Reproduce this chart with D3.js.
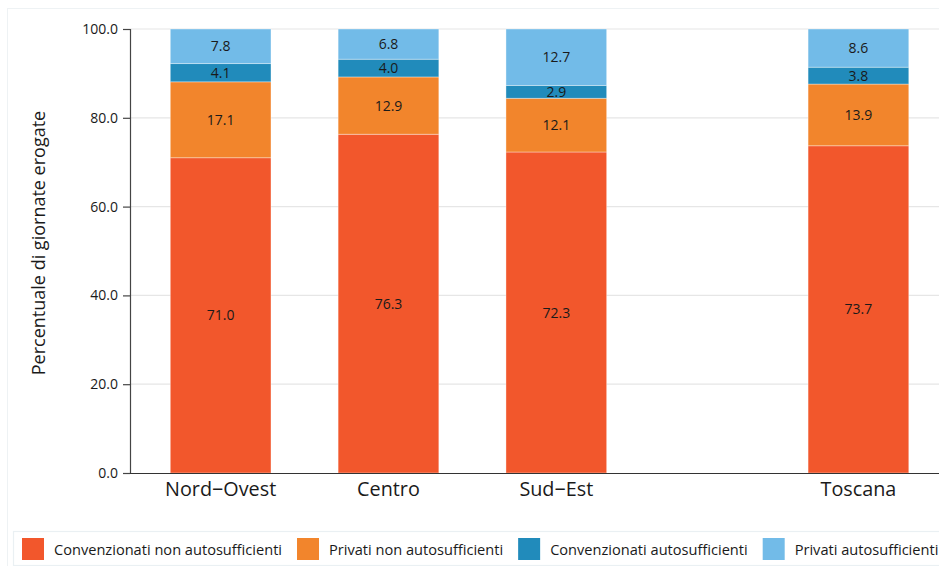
<!DOCTYPE html>
<html><head><meta charset="utf-8">
<script src="https://cdn.jsdelivr.net/npm/d3@7"></script>
<style>
html,body{margin:0;padding:0;background:#fff;}
svg{display:block;font-family:"Open Sans",Lato,sans-serif;}
</style></head>
<body>
<svg id="chart" width="939" height="566"></svg>
<script>
const categories = ["Nord\u2212Ovest", "Centro", "Sud\u2212Est", "Toscana"];
const seriesNames = ["Convenzionati non autosufficienti", "Privati non autosufficienti", "Convenzionati autosufficienti", "Privati autosufficienti"];
const convNonAuto = [71.0, 76.3, 72.3, 73.7];
const privNonAuto = [17.1, 12.9, 12.1, 13.9];
const convAuto = [4.1, 4.0, 2.9, 3.8];
const privAuto = [7.8, 6.8, 12.7, 8.6];
const yTicks = [0, 20, 40, 60, 80, 100];
const colors = ["#f2572c", "#f2852c", "#218bbb", "#72bbe8"];
const yTitle = "Percentuale di giornate erogate";

(function () {
const FONT = "'Open Sans',Lato,sans-serif";
const seriesValues = [convNonAuto, privNonAuto, convAuto, privAuto];
const keys = ["s0","s1","s2","s3"];
const table = categories.map((c, i) => {
  const row = {cat: c, idx: i};
  keys.forEach((k, j) => row[k] = seriesValues[j][i]);
  return row;
});

const svg = d3.select("#chart");
const W = 939, H = 566;
const mLeft = 130, mRight = 939, mTop = 29, mBottom = 473;

// outer frame
svg.append("rect").attr("x", 7.5).attr("y", 8.5).attr("width", W).attr("height", H)
  .attr("fill", "none").attr("stroke", "#eef2f4").attr("stroke-width", 1);

// x: category slots with a spacer before the national total
const gap = 0.8;
const slot = i => i + (i >= 3 ? gap : 0);
const x = d3.scaleLinear().domain([-0.54, 4.28]).range([mLeft, mRight]);
const barW = x(0.6) - x(0);
const y = d3.scaleLinear().domain([0, 100]).range([mBottom, mTop]);

// grid
svg.append("g").selectAll("line").data(yTicks.filter(t => t > 0)).join("line")
  .attr("x1", mLeft).attr("x2", mRight).attr("y1", d => y(d)).attr("y2", d => y(d))
  .attr("stroke", "#e6e6e6").attr("stroke-width", 1.2);

// bars
const stack = d3.stack().keys(keys)(table);
const g = svg.append("g");
stack.forEach((layer, j) => {
  g.append("g").selectAll("rect").data(layer).join("rect")
    .attr("x", d => x(slot(d.data.idx)) - barW / 2)
    .attr("width", barW)
    .attr("y", d => y(d[1]))
    .attr("height", d => y(d[0]) - y(d[1]))
    .attr("fill", colors[j])
    .attr("stroke", "rgba(255,255,255,0.45)").attr("stroke-width", 0.8);
});
stack.forEach((layer, j) => {
  g.append("g").selectAll("text").data(layer).join("text")
    .attr("x", d => x(slot(d.data.idx)))
    .attr("y", d => (y(d[0]) + y(d[1])) / 2)
    .attr("dy", "0.36em")
    .attr("text-anchor", "middle")
    .attr("font-size", 14).attr("fill", "#1a1a1a")
    .text(d => d3.format(".1f")(d[1] - d[0]));
});

// y axis
const yAxis = svg.append("g").attr("transform", `translate(${mLeft},0)`)
  .call(d3.axisLeft(y).tickValues(yTicks).tickFormat(d3.format(".1f")).tickSize(7).tickPadding(5));
yAxis.select(".domain").attr("stroke", "#444").attr("stroke-width", 1.2).attr("d", `M0.5,${mTop}V${mBottom}`);
yAxis.selectAll(".tick line").attr("stroke", "#444").attr("stroke-width", 1.2);
yAxis.selectAll(".tick text").attr("font-size", 14).attr("fill", "#1a1a1a").attr("font-family", FONT);

// x axis
svg.append("line").attr("x1", mLeft).attr("x2", mRight).attr("y1", mBottom + 0.5).attr("y2", mBottom + 0.5)
  .attr("stroke", "#333").attr("stroke-width", 1.2);
svg.append("g").selectAll("text").data(categories).join("text")
  .attr("x", (d, i) => x(slot(i)))
  .attr("y", 496)
  .attr("text-anchor", "middle")
  .attr("font-size", 19.8).attr("fill", "#1a1a1a")
  .text(d => d);

// y title
svg.append("text")
  .attr("transform", `translate(45,243) rotate(-90)`)
  .attr("text-anchor", "middle")
  .attr("font-size", 18).attr("fill", "#1a1a1a")
  .text(yTitle);

// legend
svg.append("rect").attr("x", 13.5).attr("y", 531.5).attr("width", 940).attr("height", 34)
  .attr("fill", "none").attr("stroke", "#eaf0f3").attr("stroke-width", 1.2);
const lg = svg.append("g");
let lx = 22;
seriesNames.forEach((name, j) => {
  lg.append("rect").attr("x", lx).attr("y", 538).attr("width", 22).attr("height", 22).attr("fill", colors[j]);
  const t = lg.append("text").attr("x", lx + 32).attr("y", 554.5).attr("font-size", 14.6).attr("fill", "#1a1a1a").text(name);
  lx += 32 + t.node().getComputedTextLength() + 15;
});
})();
</script>
</body></html>
